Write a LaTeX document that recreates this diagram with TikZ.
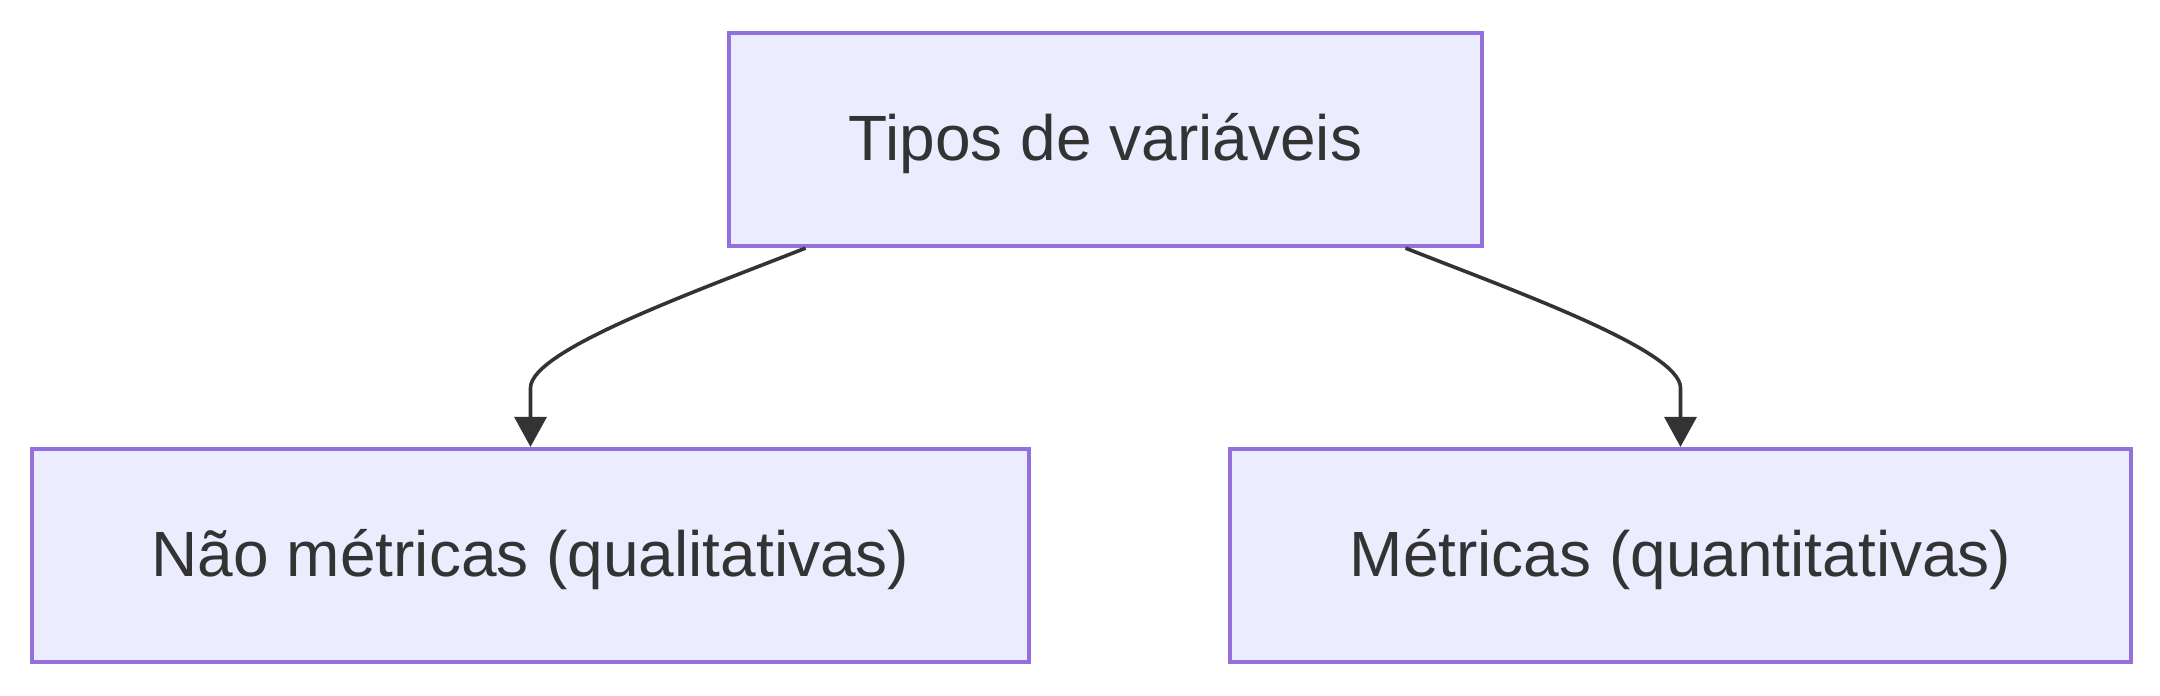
\documentclass[tikz,border=0pt]{standalone}
\usepackage{fontspec}
\setmainfont{Liberation Sans}
\usetikzlibrary{arrows.meta}
\definecolor{boxFill}{HTML}{ECECFF}
\definecolor{boxLine}{HTML}{9370DB}
\definecolor{darkText}{HTML}{333333}

\begin{document}
\begin{tikzpicture}[color=darkText, >={Triangle[width=16pt,length=15pt]}]

    \def\bh{106.5pt}
    \def\dx{150pt}
    \tikzset{tipo/.style={draw=boxLine, fill=boxFill, line width=2.1pt,
        minimum height=\bh, inner xsep=60pt, text=darkText,
        font=\fontsize{32pt}{38pt}\selectfont,
        text height=29.2pt, text depth=7.9pt}}
    \tikzset{link/.style={->, line width=1.8pt, draw=darkText}}

    % fixed frame
    \useasboundingbox (0,0) rectangle (1080pt,-348pt);

    % boxes
    \node[tipo] (tipos) at (552.75pt,-69.75pt) {Tipos de variáveis};
    \node[tipo] (nao) at (265.25pt,-277.75pt) {Não métricas (qualitativas)};
    \node[tipo] (metr) at (840.25pt,-277.75pt) {Métricas (quantitativas)};

    % curved links
    \draw[link] ([xshift=-\dx]tipos.south) .. controls +(-53pt,-21pt) and +(0,19pt)
        .. ([yshift=29.5pt]nao.north) -- (nao.north);
    \draw[link] ([xshift=\dx]tipos.south) .. controls +(53pt,-21pt) and +(0,19pt)
        .. ([yshift=29.5pt]metr.north) -- (metr.north);

\end{tikzpicture}
\end{document}
